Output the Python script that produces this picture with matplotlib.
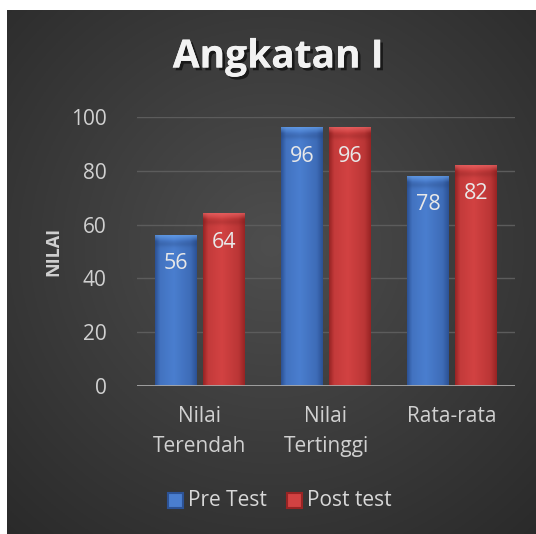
import numpy as np
import matplotlib
matplotlib.use("Agg")
import matplotlib.pyplot as plt
from matplotlib.patches import Rectangle
import matplotlib.patheffects as pe

categories = ["Nilai\nTerendah", "Nilai\nTertinggi", "Rata-rata"]
pre_test = [56, 96, 78]
post_test = [64, 96, 82]
series_names = ["Pre Test", "Post test"]
y_ticks = [0, 20, 40, 60, 80, 100]

W, H = 536, 534
fig = plt.figure(figsize=(W / 100, H / 100), dpi=100)
fig.patch.set_facecolor("white")
FONT = ["Open Sans", "DejaVu Sans"]

# background radial gradient
bg = fig.add_axes([7 / W, 0, 1 - 7 / W, 1 - 10 / H])
bg.set_axis_off()
yy, xx = np.mgrid[0:1:300j, 0:1:300j]
r = np.sqrt(((xx - 0.5) / 0.75) ** 2 + ((yy - 0.55) / 0.75) ** 2)
r = np.clip(r, 0, 1)
c0 = np.array([0x4e, 0x4e, 0x4e]) / 255
c1 = np.array([0x2a, 0x2a, 0x2a]) / 255
img = c0[None, None, :] * (1 - r[..., None]) + c1[None, None, :] * r[..., None]
bg.imshow(img, extent=[0, 1, 0, 1], aspect="auto", origin="lower")
bg.set_xlim(0, 1); bg.set_ylim(0, 1)

ax = fig.add_axes([137 / W, 1 - 386 / H, (515 - 137) / W, (386 - 117) / H])
ax.set_facecolor("none")
ax.set_xlim(-0.5, 2.5)
ax.set_ylim(0, 100)
for s in ax.spines.values():
    s.set_visible(False)
ax.set_yticks(y_ticks)
ax.set_yticklabels([str(t) for t in y_ticks], fontsize=15, color="#d0d0d0", family=FONT)
ax.tick_params(axis="y", length=0, pad=22)
ax.set_xticks([])
ax.grid(axis="y", color="#5c5c5c", linewidth=1)
ax.set_axisbelow(True)
ax.axhline(0, color="#a8a8a8", linewidth=2, zorder=5)

def grad_bar(x, w, h, dark, light, top):
    n = 64
    t = np.linspace(0, 1, n)
    prof = np.interp(t, [0, 0.12, 0.45, 0.85, 1], [0.0, 0.75, 1.0, 0.6, 0.0])
    row = dark[None, :] * (1 - prof[:, None]) + light[None, :] * prof[:, None]
    m = 400
    img = np.repeat(row[None, :, :], m, axis=0)
    px = h * 2.69
    ypix = (1 - (np.arange(m) + 0.5) / m) * px
    capw = np.clip(1 - ypix / 6.0, 0, 1) * 0.7
    darkw = np.exp(-((ypix - 9.0) / 3.0) ** 2) * 0.25
    img = img * (1 - capw[:, None, None]) + top[None, None, :] * capw[:, None, None]
    img = img * (1 - darkw[:, None, None]) + dark[None, None, :] * 0.8 * darkw[:, None, None]
    ax.imshow(np.clip(img, 0, 1), extent=[x - w / 2, x + w / 2, 0, h], origin="lower",
              aspect="auto", zorder=3, interpolation="bilinear")
    ax.set_xlim(-0.5, 2.5); ax.set_ylim(0, 100)

blue_dark = np.array([0x2c, 0x52, 0x95]) / 255
blue_light = np.array([0x4a, 0x7e, 0xcf]) / 255
blue_top = np.array([0x6a, 0xa5, 0xee]) / 255
red_dark = np.array([0x98, 0x24, 0x24]) / 255
red_light = np.array([0xd2, 0x42, 0x42]) / 255
red_top = np.array([0xee, 0x6a, 0x6a]) / 255

x = np.arange(len(categories))
bw = 0.333
off = 0.19
for i in range(len(categories)):
    grad_bar(x[i] - off, bw, pre_test[i], blue_dark, blue_light, blue_top)
    grad_bar(x[i] + off, bw, post_test[i], red_dark, red_light, red_top)
    ax.text(x[i] - off, pre_test[i] - 10.5, str(pre_test[i]), ha="center", va="center",
            fontsize=15.5, color="#e8e8e8", family=FONT, zorder=6)
    ax.text(x[i] + off, post_test[i] - 10.5, str(post_test[i]), ha="center", va="center",
            fontsize=15.5, color="#e8e8e8", family=FONT, zorder=6)
    ax.text(x[i], -7.5, categories[i], ha="center", va="top", fontsize=15,
            color="#d0d0d0", family=FONT, linespacing=1.55)

fig.text(53 / W, 1 - 251 / H, "NILAI", rotation=90, ha="center", va="center",
         fontsize=13, fontweight="bold", color="#d0d0d0", family=FONT)

fig.text(278 / W, 1 - 57 / H, "Angkatan I", ha="center", va="center",
         fontsize=28, fontweight="bold", color="#f2f2f2", family=FONT,
         path_effects=[pe.withSimplePatchShadow(offset=(2, -2), shadow_rgbFace="#111111", alpha=0.8),
                       pe.Normal()])

# legend
leg_ax = fig.add_axes([0, 0, 1, 1])
leg_ax.set_axis_off()
leg_ax.set_xlim(0, W); leg_ax.set_ylim(H, 0)
items = [(168, series_names[0], blue_light, blue_dark), (287, series_names[1], red_light, red_dark)]
for lx, name, cl, cd in items:
    leg_ax.add_patch(Rectangle((lx, 493), 15, 15, facecolor=cl, edgecolor=cd, linewidth=1.5))
    leg_ax.text(lx + 20, 500, name, ha="left", va="center", fontsize=15,
                color="#d8d8d8", family=FONT)

fig.savefig("out.png", dpi=100, facecolor="white")
